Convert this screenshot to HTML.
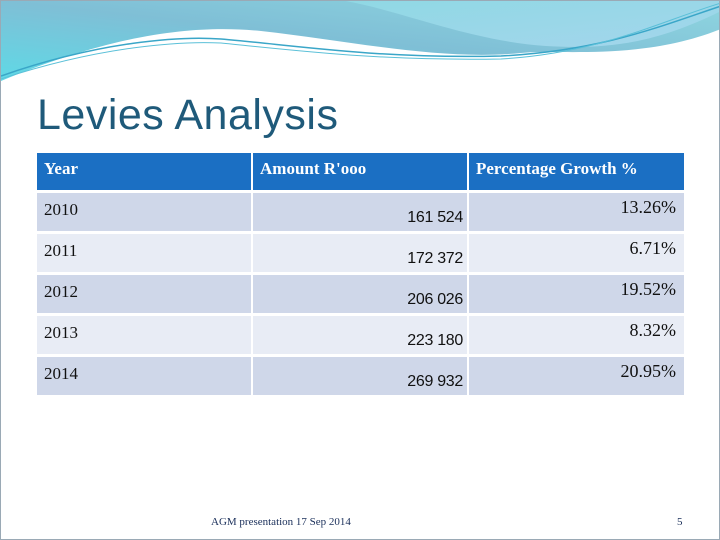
<!DOCTYPE html>
<html><head><meta charset="utf-8"><style>
body{margin:0;width:720px;height:540px;overflow:hidden;background:#fff;font-family:"Liberation Serif",serif}
.slide{position:absolute;left:0;top:0;width:718px;height:538px;border:1px solid #9aa9b5;background:#fff;overflow:hidden}
.cell{position:absolute;box-sizing:border-box}
.h{background:#1b6fc3;color:#fff;font-size:17px;padding:6px 0 0 7px;font-weight:bold}
.yr{font-size:17px;padding:7px 0 0 7px;color:#111}
.amt{font-family:"Liberation Sans",sans-serif;font-size:16px;text-align:right;padding-right:4px;padding-top:16px;color:#111;letter-spacing:-0.3px}
.pct{font-size:18px;text-align:right;padding-right:8px;padding-top:4px;color:#111}
</style></head><body>
<div class="slide">
<svg width="720" height="90" style="position:absolute;left:0;top:0">
<defs><linearGradient id="g1" x1="0" y1="1" x2="1" y2="0"><stop offset="0" stop-color="#5fd9e6"/><stop offset="0.5" stop-color="#7fbfd6"/><stop offset="1" stop-color="#8fd6e0"/></linearGradient>
<linearGradient id="g2" x1="0" y1="0" x2="1" y2="1"><stop offset="0" stop-color="#8fd8e4"/><stop offset="1" stop-color="#a4d6ec"/></linearGradient></defs>
<path d="M0,0 H720 V28 C640,60 560,48 520,52 C440,60 350,40 260,30 C200,24 120,30 0,80 Z" fill="url(#g1)"/>
<path d="M325,0 H720 V10 C650,45 600,48 545,45 C470,40 400,10 345,0 Z" fill="url(#g2)"/>
<path d="M0,75 C100,40 180,35 220,38 C300,45 380,58 500,55 C600,50 660,25 720,5" fill="none" stroke="#3aa6c8" stroke-width="1.5"/>
<path d="M0,78 C100,45 180,40 220,42 C300,50 380,60 500,58 C600,52 660,20 720,2" fill="none" stroke="#5bc0d8" stroke-width="1"/>
</svg>
<div style="position:absolute;left:36px;top:90px;font-family:'Liberation Sans',sans-serif;font-size:43px;color:#1f5a7a;letter-spacing:0.5px">Levies Analysis</div>

<div class="cell h" style="left:36px;top:152px;width:214px;height:37px">Year</div>
<div class="cell h" style="left:252px;top:152px;width:214px;height:37px">Amount R'ooo</div>
<div class="cell h" style="left:468px;top:152px;width:215px;height:37px">Percentage Growth %</div>
<div id="rows"></div>

<div style="position:absolute;left:210px;top:515px;font-size:11px;color:#1a2f5a">AGM presentation 17 Sep 2014</div>
<div style="position:absolute;left:676px;top:515px;font-size:11px;color:#1a2f5a">5</div>
</div>
<script>
const years=["2010","2011","2012","2013","2014"];
const amounts=["161 524","172 372","206 026","223 180","269 932"];
const growth=["13.26%","6.71%","19.52%","8.32%","20.95%"];
const rows=document.getElementById('rows');
years.forEach((y,i)=>{
  const top=192+i*41;const bg=i%2?'#e8ecf5':'#cfd7e9';
  const cols=[[36,214,'yr',y],[252,214,'amt',amounts[i]],[468,215,'pct',growth[i]]];
  cols.forEach((c,j)=>{
    const d=document.createElement('div');
    d.className='cell '+c[2];
    d.style.cssText=`left:${c[0]}px;top:${top}px;width:${c[1]}px;height:38px;background:${bg}`;
    d.textContent=c[3];
    
    
    rows.appendChild(d);
  });
});
</script>
</body></html>
